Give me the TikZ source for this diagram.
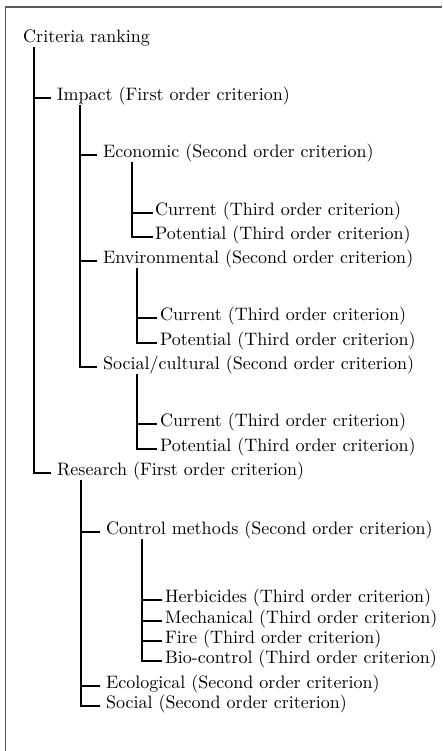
\documentclass[tikz,border=0pt]{standalone}
\usepackage{fontspec}
\setmainfont{lmroman10-regular.otf}
\begin{document}
\begin{tikzpicture}[x=1pt,y=-1pt,
  lbl/.style={anchor=west, inner sep=0pt, text height=0.75em, text depth=0.25em,
              font=\fontsize{18}{20}\selectfont},
  conn/.style={line width=1.1pt, black},
  frame/.style={line width=1.4pt, black!65}]
\useasboundingbox (0,0) rectangle (442,751);
\coordinate (fbl) at (5.5,751);
\coordinate (ftl) at (5.5,7);
\coordinate (ftr) at (442,7);
\draw[frame] (fbl) -- (ftl) -- (ftr);

\node[lbl] (root) at (23,40) {Criteria ranking};
\node[lbl] (impact) at (57,98) {Impact (First order criterion)};
\node[lbl] (econ) at (103,155) {Economic (Second order criterion)};
\node[lbl] (cur1) at (155,213) {Current (Third order criterion)};
\node[lbl] (pot1) at (155,237) {Potential (Third order criterion)};
\node[lbl] (env) at (103,261) {Environmental (Second order criterion)};
\node[lbl] (cur2) at (160,318) {Current (Third order criterion)};
\node[lbl] (pot2) at (160,343) {Potential (Third order criterion)};
\node[lbl] (soc) at (103,367) {Social/cultural (Second order criterion)};
\node[lbl] (cur3) at (160,424) {Current (Third order criterion)};
\node[lbl] (pot3) at (160,449) {Potential (Third order criterion)};
\node[lbl] (research) at (57,473) {Research (First order criterion)};
\node[lbl] (control) at (106,532) {Control methods (Second order criterion)};
\node[lbl] (herb) at (165,600) {Herbicides (Third order criterion)};
\node[lbl] (mech) at (165,621) {Mechanical (Third order criterion)};
\node[lbl] (fire) at (165,641) {Fire (Third order criterion)};
\node[lbl] (bio) at (165,661) {Bio-control (Third order criterion)};
\node[lbl] (eco) at (106,686) {Ecological (Second order criterion)};
\node[lbl] (social) at (106,706) {Social (Second order criterion)};

% root
\draw[conn] ([xshift=11pt,yshift=-2pt]root.south west) |- ([xshift=-6pt]impact.west);
\draw[conn] ([xshift=11pt,yshift=-2pt]root.south west) |- ([xshift=-6pt]research.west);
% impact
\draw[conn] ([xshift=23pt,yshift=-2pt]impact.south west) |- ([xshift=-6pt]econ.west);
\draw[conn] ([xshift=23pt,yshift=-2pt]impact.south west) |- ([xshift=-6pt]env.west);
\draw[conn] ([xshift=23pt,yshift=-2pt]impact.south west) |- ([xshift=-6pt]soc.west);
% economic
\draw[conn] ([xshift=29pt,yshift=-2pt]econ.south west) |- ([xshift=-2pt]cur1.west);
\draw[conn] ([xshift=29pt,yshift=-2pt]econ.south west) |- ([xshift=-2pt]pot1.west);
% environmental
\draw[conn] ([xshift=34pt,yshift=-2pt]env.south west) |- ([xshift=-3pt]cur2.west);
\draw[conn] ([xshift=34pt,yshift=-2pt]env.south west) |- ([xshift=-3pt]pot2.west);
% social/cultural
\draw[conn] ([xshift=34pt,yshift=-2pt]soc.south west) |- ([xshift=-3pt]cur3.west);
\draw[conn] ([xshift=34pt,yshift=-2pt]soc.south west) |- ([xshift=-3pt]pot3.west);
% research
\draw[conn] ([xshift=24pt,yshift=-2pt]research.south west) |- ([xshift=-6pt]control.west);
\draw[conn] ([xshift=24pt,yshift=-2pt]research.south west) |- ([xshift=-6pt]eco.west);
\draw[conn] ([xshift=24pt,yshift=-2pt]research.south west) |- ([xshift=-6pt]social.west);
% control methods
\draw[conn] ([xshift=36pt,yshift=-2pt]control.south west) |- ([xshift=-3pt]herb.west);
\draw[conn] ([xshift=36pt,yshift=-2pt]control.south west) |- ([xshift=-3pt]mech.west);
\draw[conn] ([xshift=36pt,yshift=-2pt]control.south west) |- ([xshift=-3pt]fire.west);
\draw[conn] ([xshift=36pt,yshift=-2pt]control.south west) |- ([xshift=-3pt]bio.west);
\end{tikzpicture}
\end{document}
